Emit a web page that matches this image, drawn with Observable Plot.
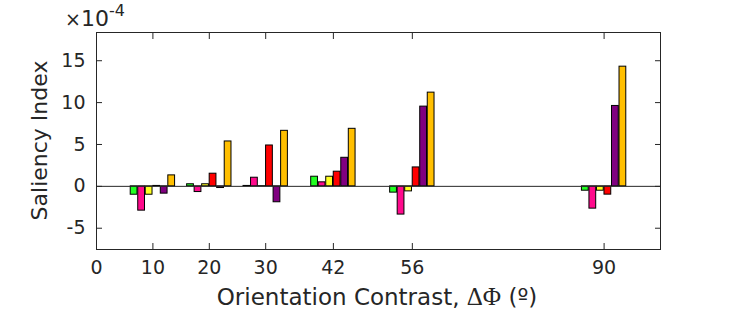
<!DOCTYPE html>
<html><head><meta charset="utf-8">
<script src="https://cdn.jsdelivr.net/npm/d3@7"></script>
<script src="https://cdn.jsdelivr.net/npm/@observablehq/plot@0.6"></script>
<style>body{margin:0;background:#fff}</style>
</head><body><div id="chart"></div>
<script>
// Orientation contrast groups (degrees)
const angles = [10, 20, 30, 42, 56, 90];
const seriesNames = ["s1", "s2", "s3", "s4", "s5", "s6"];
const seriesColors = ["#22ff22", "#ff0a8c", "#ffff22", "#ff0000", "#800080", "#ffbf00"];
// Saliency index values (x 1e-4), one array per series, in order of angles
const s1 = [-1.0, 0.25, 0.05, 1.15, -0.75, -0.52];
const s2 = [-2.9, -0.68, 1.03, 0.48, -3.37, -2.66];
const s3 = [-1.0, 0.25, 0.02, 1.15, -0.6, -0.52];
const s4 = [0.05, 1.51, 4.88, 1.75, 2.26, -0.99];
const s5 = [-0.87, -0.2, -1.9, 3.41, 9.52, 9.6];
const s6 = [1.31, 5.36, 6.63, 6.87, 11.19, 14.29];
const xTicks = [0, 10, 20, 30, 42, 56, 90];
const yTicks = [-5, 0, 5, 10, 15];

const allSeries = [s1, s2, s3, s4, s5, s6];
const groupWidth = 8, step = groupWidth / 6, bw = step * 0.9;
const bars = [];
allSeries.forEach((vals, i) => vals.forEach((v, j) => {
  const c = angles[j] + (i - 2.5) * step;
  bars.push({x1: c - bw / 2, x2: c + bw / 2, v, series: seriesNames[i]});
}));

const ink = "#262626";
const chart = Plot.plot({
  width: 729, height: 312,
  marginLeft: 96, marginRight: 69, marginTop: 32, marginBottom: 63,
  style: {fontFamily: "DejaVu Sans", fontSize: "19px", color: ink, background: "#fff", overflow: "visible"},
  x: {domain: [0, 100]},
  y: {domain: [-7.54, 18.37]},
  color: {domain: seriesNames, range: seriesColors},
  marks: [
    Plot.rectY(bars, {x1: "x1", x2: "x2", y1: 0, y2: "v", fill: "series", stroke: "black", strokeWidth: 1}),
    Plot.ruleY([0], {stroke: ink}),
    Plot.frame({stroke: ink}),
    Plot.axisX(xTicks, {anchor: "bottom", tickSize: -6, tickPadding: 17, label: null, stroke: ink}),
    Plot.axisX(xTicks.slice(1), {anchor: "top", tickSize: -6, tickFormat: () => "", label: null, stroke: ink}),
    Plot.axisY(yTicks, {anchor: "left", tickSize: -6, tickPadding: 17, tickFormat: d => String(d), label: null, stroke: ink}),
    Plot.axisY(yTicks, {anchor: "right", tickSize: -6, tickFormat: () => "", label: null, stroke: ink})
  ]
});
document.getElementById("chart").append(chart);

const svg = d3.select(chart);
svg.append("text")
  .attr("transform", "translate(39,140.5) rotate(-90)")
  .attr("text-anchor", "middle").attr("dominant-baseline", "central")
  .attr("font-size", 22).attr("fill", ink).attr("font-family", "DejaVu Sans")
  .text("Saliency Index");

const xl = svg.append("text")
  .attr("x", 377).attr("y", 305).attr("text-anchor", "middle")
  .attr("font-size", 23).attr("fill", ink).attr("font-family", "DejaVu Sans");
xl.append("tspan").text("Orientation Contrast, ");
xl.append("tspan").attr("font-family", "Liberation Serif").attr("font-size", 25).text("ΔΦ");
xl.append("tspan").text(" (º)");

const mult = svg.append("text")
  .attr("x", 95).attr("y", 26).attr("font-size", 22).attr("fill", ink).attr("font-family", "DejaVu Sans");
mult.append("tspan").attr("font-size", 19).text("×");
mult.append("tspan").text("10");
mult.append("tspan").attr("dy", -10).attr("font-size", 16).text("-4");
</script>
</body></html>
